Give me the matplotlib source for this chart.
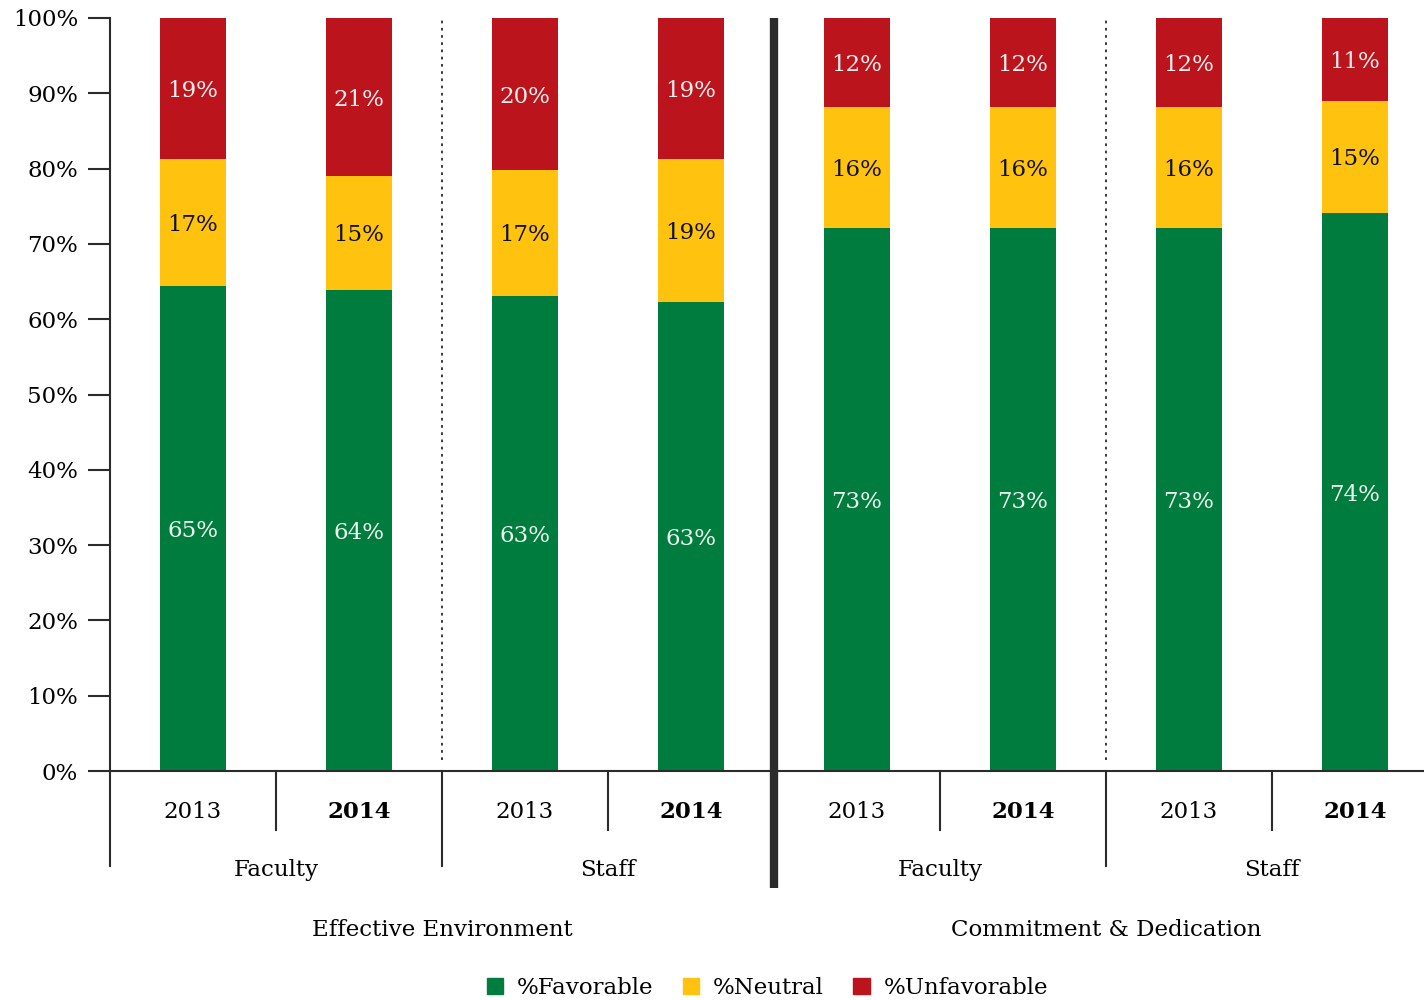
import matplotlib
matplotlib.use('Agg')
from matplotlib import pyplot as plt
from matplotlib.patches import Patch
import numpy as np

plt.rcParams['font.family'] = ['DejaVu Serif']

years = ['2013', '2014'] * 4
subgroups = ['Faculty', 'Staff', 'Faculty', 'Staff']
groups = ['Effective Environment', 'Commitment & Dedication']

favorable = [64.4, 63.9, 63.1, 62.3, 72.1, 72.1, 72.1, 74.1]
neutral = [16.9, 15.1, 16.7, 19.0, 16.1, 16.1, 16.1, 14.9]
unfavorable = [18.7, 21.0, 20.2, 18.7, 11.8, 11.8, 11.8, 11.0]

favorable_labels = ['65%', '64%', '63%', '63%', '73%', '73%', '73%', '74%']
neutral_labels = ['17%', '15%', '17%', '19%', '16%', '16%', '16%', '15%']
unfavorable_labels = ['19%', '21%', '20%', '19%', '12%', '12%', '12%', '11%']

GREEN = '#007c3e'
YELLOW = '#ffc20e'
RED = '#bb141c'
LINE = '#2b2b2b'
FS = 16.5

fig = plt.figure(figsize=(14.24, 10), dpi=100)
ax = fig.add_axes([110 / 1424, 0.229, 1328 / 1424, 0.753])

x = np.arange(len(favorable)) + 0.5
fav = np.array(favorable)
neu = np.array(neutral)
unf = np.array(unfavorable)

ax.bar(x, fav, width=0.4, color=GREEN)
ax.bar(x, neu, width=0.4, bottom=fav, color=YELLOW)
ax.bar(x, unf, width=0.4, bottom=fav + neu, color=RED)

for i in range(len(x)):
    ax.text(x[i], fav[i] / 2, favorable_labels[i], ha='center', va='center_baseline',
            fontsize=FS, color='#eef7ee')
    ax.text(x[i], fav[i] + neu[i] / 2, neutral_labels[i], ha='center',
            va='center_baseline', fontsize=FS, color='#111111')
    ax.text(x[i], fav[i] + neu[i] + unf[i] / 2, unfavorable_labels[i], ha='center',
            va='center_baseline', fontsize=FS, color='#f7eeee')

ax.set_xlim(0, 8)
ax.set_ylim(0, 100)
ax.set_yticks(np.arange(0, 101, 10))
ax.set_yticklabels([f'{v}%' for v in range(0, 101, 10)], fontsize=FS)
ax.tick_params(axis='y', direction='out', length=16, width=1.5, color=LINE, pad=7)
ax.set_xticks([])

for side in ['top', 'right', 'bottom']:
    ax.spines[side].set_visible(False)
ax.spines['left'].set_color(LINE)
ax.spines['left'].set_linewidth(1.5)
ax.axhline(0, color=LINE, lw=1.5, clip_on=False)

trans = ax.get_xaxis_transform()

# year separators
for xs in [1, 3, 5, 7]:
    ax.plot([xs, xs], [0, -0.078], color=LINE, lw=1.5, transform=trans, clip_on=False)
# subgroup separators
for xs in [0, 2, 6]:
    ax.plot([xs, xs], [0, -0.126], color=LINE, lw=1.5, transform=trans, clip_on=False)
# thick group divider
ax.plot([4, 4], [1.0, -0.155], color=LINE, lw=6, transform=trans, clip_on=False,
        solid_capstyle='butt')
# dotted lines between faculty and staff
for xs in [2, 6]:
    ax.plot([xs, xs], [0.015, 1.0], color=LINE, lw=1.3, ls=(0, (1.5, 2.5)),
            transform=trans)

for i, yr in enumerate(years):
    ax.text(x[i], -0.054, yr, ha='center', va='center', fontsize=FS,
            fontweight='bold' if yr == '2014' else 'normal', transform=trans)
for i, sg in enumerate(subgroups):
    ax.text(2 * i + 1, -0.132, sg, ha='center', va='center', fontsize=FS, transform=trans)
for i, g in enumerate(groups):
    ax.text(4 * i + 2, -0.211, g, ha='center', va='center', fontsize=FS, transform=trans)

handles = [Patch(color=GREEN, label='%Favorable'),
           Patch(color=YELLOW, label='%Neutral'),
           Patch(color=RED, label='%Unfavorable')]
ax.legend(handles=handles, loc='center', bbox_to_anchor=(0.495, -0.288), ncol=3,
          frameon=False, fontsize=FS, handlelength=0.7, handleheight=0.7,
          handletextpad=0.6, columnspacing=1.3)

plt.savefig('out.png', dpi=100)
